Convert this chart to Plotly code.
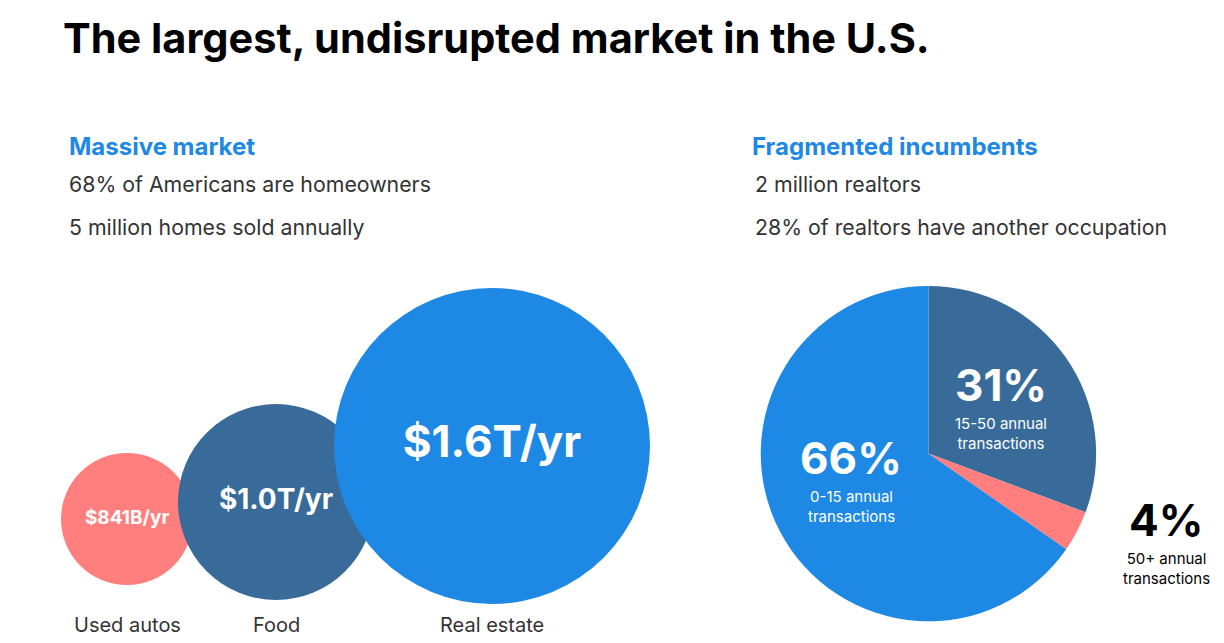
import plotly.graph_objects as go

markets = ["Used autos", "Food", "Real estate"]
market_labels = ["<b>$841B/yr</b>", "<b>$1.0T/yr</b>", "<b>$1.6T/yr</b>"]
market_colors = ["#FF7F7F", "#386B9A", "#1E88E5"]
bubble_x = [119, 268, 484]
bubble_y = [511, 494, 438]
bubble_d = [132, 196, 316]
label_sizes = [19, 28, 44]

pie_labels = ["15-50 annual<br>transactions", "50+ annual<br>transactions", "0-15 annual<br>transactions"]
pie_values = [31, 4, 66]
pie_colors = ["#386B9A", "#FF7F7F", "#1E88E5"]

F = "Inter, Roboto, sans-serif"
fig = go.Figure()
fig.add_trace(go.Scatter(
    x=bubble_x, y=bubble_y, mode="markers+text",
    marker=dict(size=bubble_d, color=market_colors, opacity=1, line=dict(width=0), sizemode="diameter"),
    text=market_labels, textposition="middle center",
    textfont=dict(color="white", size=label_sizes, family=F), hoverinfo="skip"))
for m, x in zip(markets, bubble_x):
    fig.add_annotation(x=x, y=617, text=m, showarrow=False,
                       font=dict(size=20, color="#333", family=F))
fig.add_trace(go.Pie(
    values=pie_values, labels=pie_labels, marker=dict(colors=pie_colors, line=dict(width=0)),
    sort=False, direction="clockwise", rotation=0, textinfo="none", hoverinfo="skip",
    domain=dict(x=[0.615, 0.889], y=[0.046, 0.568]), showlegend=False))
for (x, y, pct, lab, col) in [
    (993, 377, "31%", pie_labels[0], "white"),
    (843, 450, "66%", pie_labels[2], "white"),
    (1158, 512, "4%", pie_labels[1], "black")]:
    fig.add_annotation(x=x, y=y, text="<b>" + pct + "</b>", showarrow=False,
                       font=dict(size=44, color=col, family=F))
    fig.add_annotation(x=x, y=y + 48, text=lab, showarrow=False,
                       font=dict(size=15, color=col, family=F))

texts = [
    (53, 30, "<b>The largest, undisrupted market in the U.S.</b>", 41.5, "black"),
    (59, 138, "<b>Massive market</b>", 24, "#1E88E5"),
    (59, 176, "68% of Americans are homeowners", 21.3, "#333"),
    (59, 219, "5 million homes sold annually", 21.3, "#333"),
    (742, 138, "<b>Fragmented incumbents</b>", 24, "#1E88E5"),
    (745, 176, "2 million realtors", 21.3, "#333"),
    (745, 219, "28% of realtors have another occupation", 21.3, "#333"),
]
for x, y, t, s, c in texts:
    fig.add_annotation(x=x, y=y, text=t, showarrow=False, xanchor="left",
                       font=dict(size=s, color=c, family=F))

fig.update_layout(
    width=1224, height=643, margin=dict(l=0, r=0, t=0, b=0),
    paper_bgcolor="white", plot_bgcolor="white", showlegend=False,
    xaxis=dict(range=[0, 1224], visible=False, domain=[0, 1]),
    yaxis=dict(range=[643, 0], visible=False, domain=[0, 1]))
fig.write_html("out.html")
